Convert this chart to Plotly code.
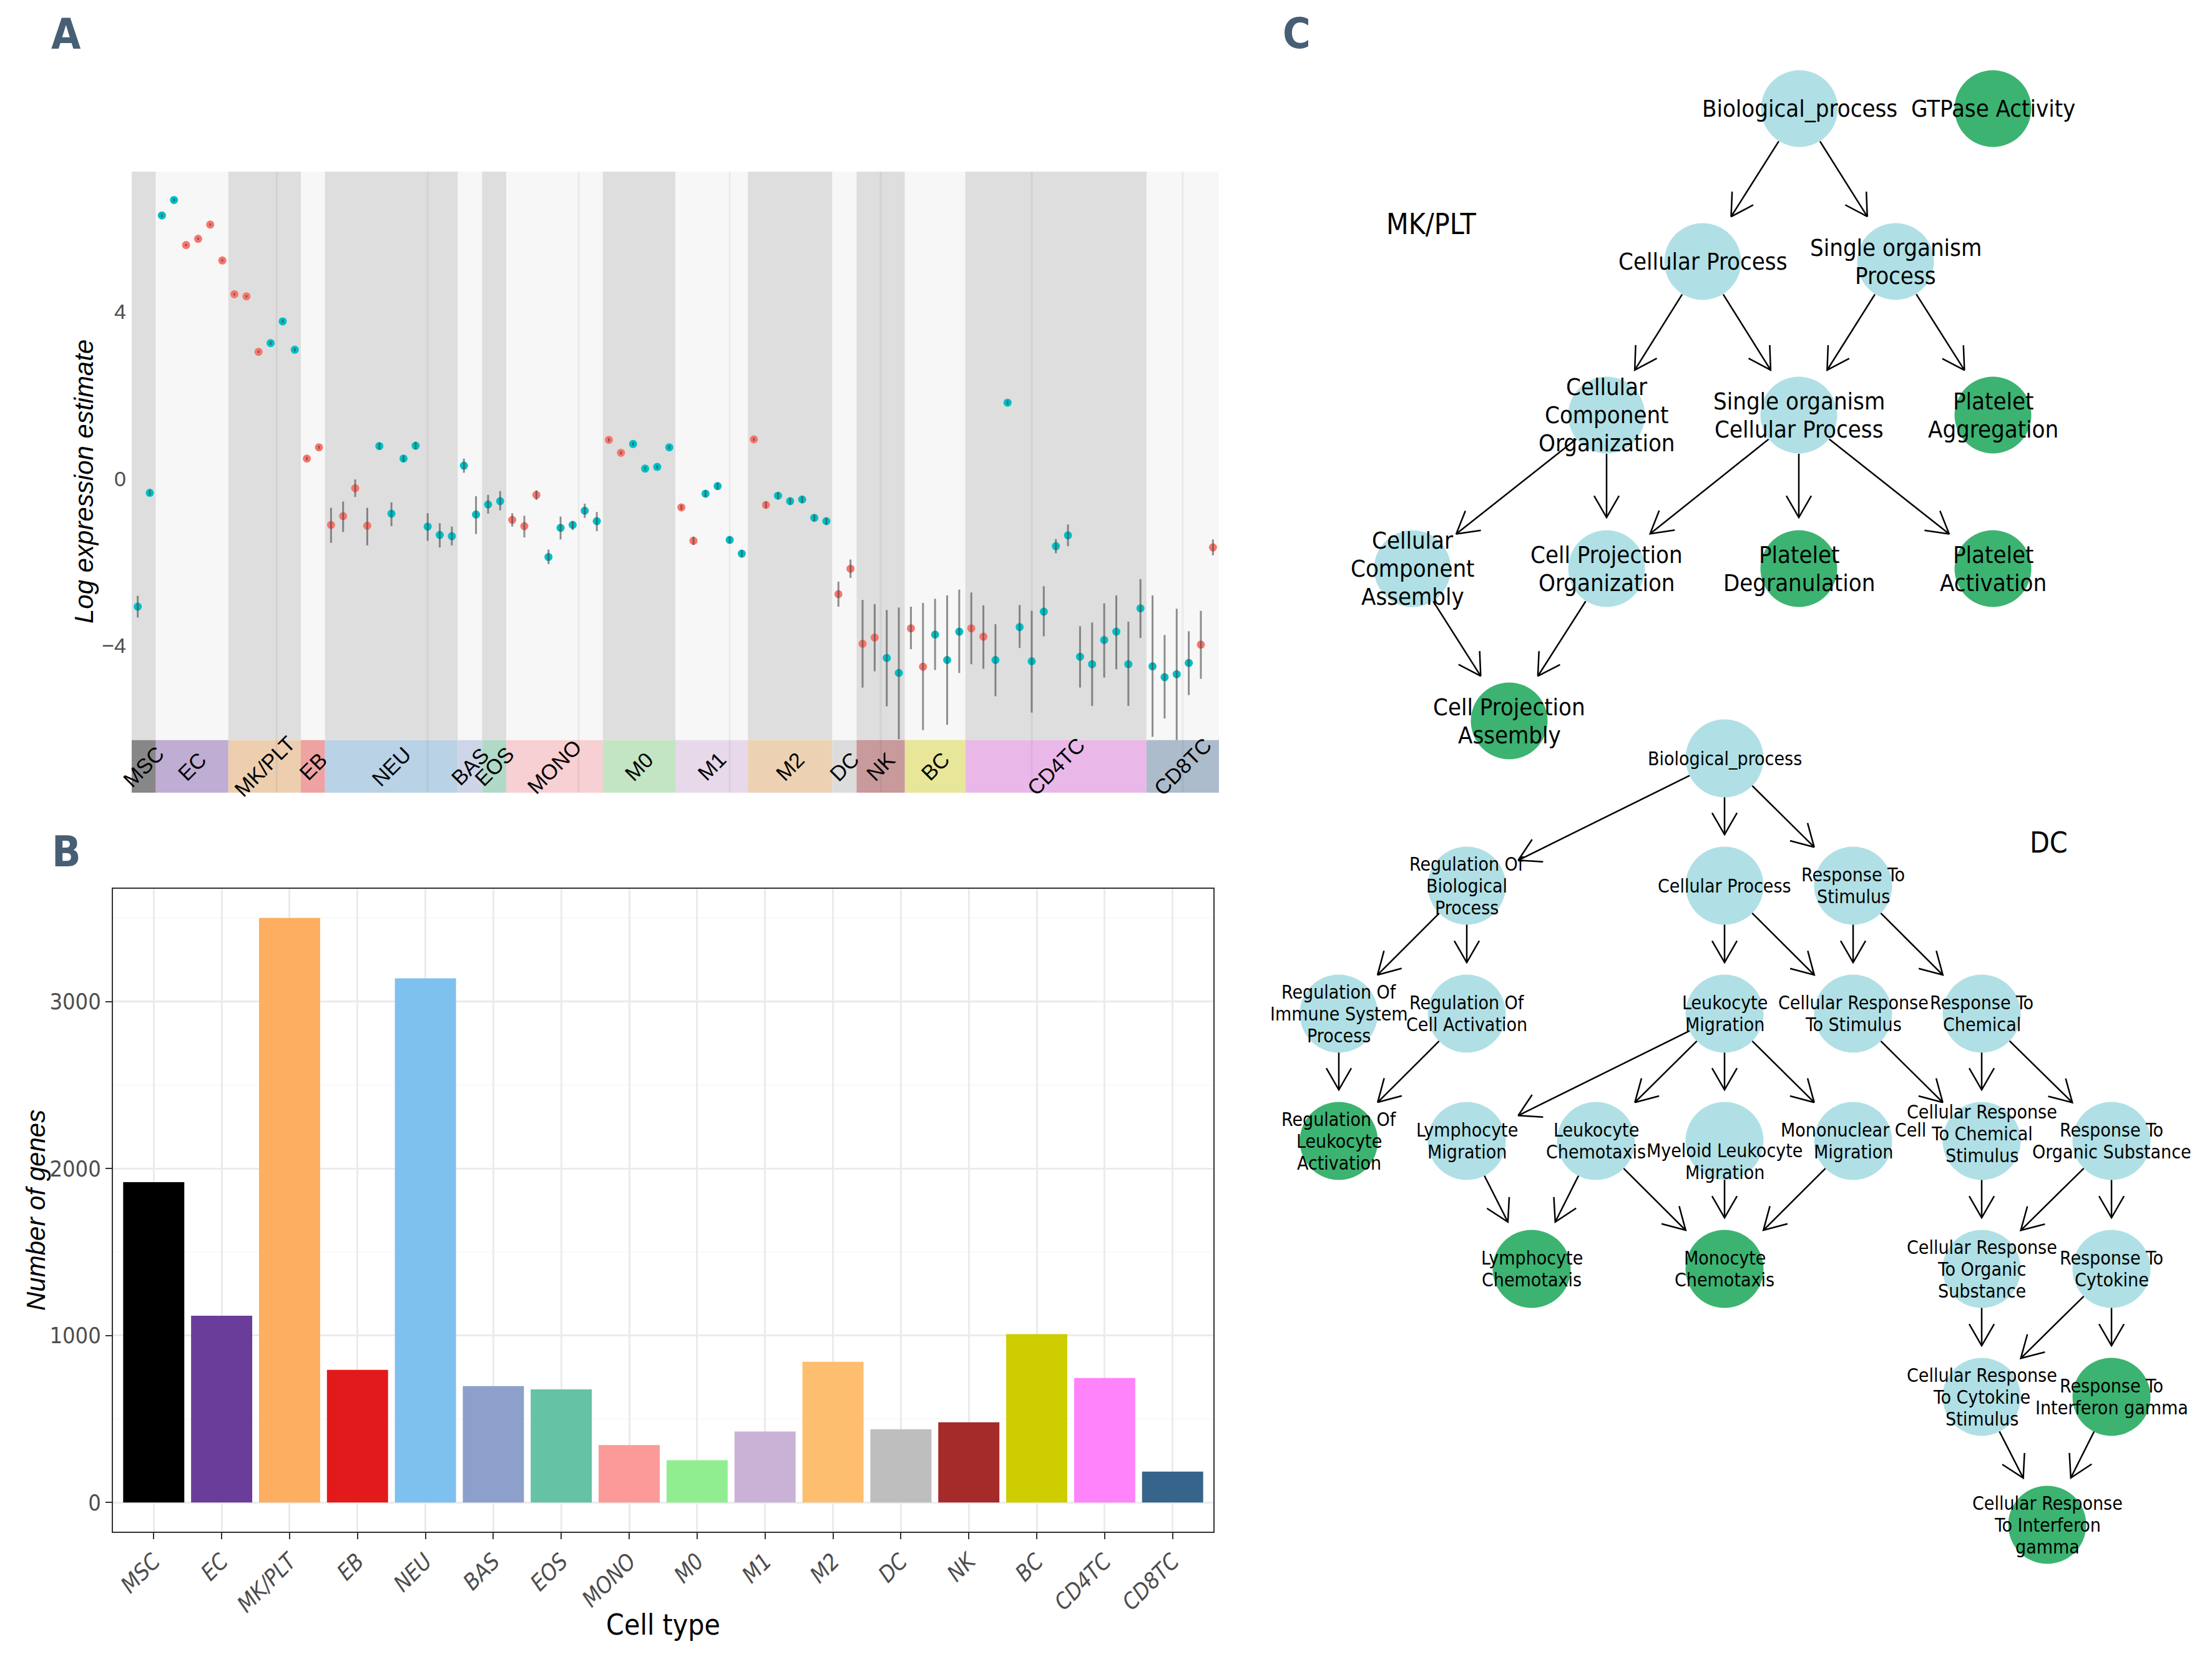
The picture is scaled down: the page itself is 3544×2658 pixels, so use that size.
import numpy as np
import plotly.graph_objects as go

W, H = 3544, 2658
NARROW = "Liberation Sans Narrow, Arial Narrow, DejaVu Sans Condensed, sans-serif"
SANS = "Liberation Sans, Arial, Helvetica, sans-serif"

# ---------------- Panel A data ----------------
groups = ["MSC", "EC", "MK/PLT", "EB", "NEU", "BAS", "EOS", "MONO", "M0", "M1",
          "M2", "DC", "NK", "BC", "CD4TC", "CD8TC"]
group_sizes = [2, 6, 6, 2, 11, 2, 2, 8, 6, 6, 7, 2, 4, 5, 15, 6]
strip_colors = ["#878787", "#bfadd4", "#edcfb0", "#eea2a2", "#b9d2e5", "#cfd5e8",
                "#b1d9c8", "#f7d0d3", "#c3e5c3", "#e7d9ea", "#ecd2b3", "#dcdcdc",
                "#c89a9b", "#e8e698", "#eab8e8", "#adbccc"]
subcluster_breaks = [12.5, 25, 37.5, 50, 62.5, 75, 87.5]

expr_est = [
    -3.07, -0.34,
    6.31, 6.68, 5.60, 5.75, 6.09, 5.23,
    4.42, 4.37, 3.04, 3.25, 3.77, 3.09,
    0.48, 0.75,
    -1.11, -0.90, -0.23, -1.13, 0.78, -0.84, 0.48, 0.79, -1.15, -1.35, -1.38,
    0.31, -0.86,
    -0.62, -0.54,
    -0.99, -1.14, -0.39, -1.88, -1.18, -1.11, -0.77, -1.02,
    0.93, 0.62, 0.83, 0.24, 0.28, 0.75,
    -0.69, -1.49, -0.36, -0.18, -1.47, -1.80,
    0.94, -0.63, -0.41, -0.54, -0.50, -0.94, -1.02,
    -2.77, -2.16,
    -3.96, -3.81, -4.30, -4.66,
    -3.59, -4.51, -3.74, -4.35, -3.67,
    -3.59, -3.79, -4.35, 1.82, -3.56, -4.38, -3.19, -1.62, -1.36, -4.27, -4.45,
    -3.87, -3.67, -4.45, -3.11,
    -4.50, -4.76, -4.69, -4.42, -3.98, -1.65,
]
expr_lo = [
    -3.33, -0.40,
    6.27, 6.64, 5.57, 5.72, 6.06, 5.20,
    4.39, 4.34, 3.01, 3.21, 3.73, 3.05,
    0.44, 0.71,
    -1.54, -1.28, -0.44, -1.60, 0.70, -1.14, 0.40, 0.70, -1.49, -1.65, -1.60,
    0.14, -1.33,
    -0.84, -0.76,
    -1.15, -1.41, -0.51, -2.05, -1.46, -1.23, -0.94, -1.26,
    0.89, 0.58, 0.79, 0.20, 0.24, 0.71,
    -0.75, -1.59, -0.44, -0.26, -1.55, -1.88,
    0.90, -0.71, -0.49, -0.62, -0.58, -1.02, -1.10,
    -3.07, -2.38,
    -5.01, -4.62, -5.46, -6.25,
    -4.09, -6.03, -4.59, -5.90, -4.66,
    -4.45, -4.56, -5.22, 1.77, -4.06, -5.61, -3.78, -1.79, -1.62, -5.01, -5.45,
    -4.77, -4.57, -5.45, -3.82,
    -6.19, -5.75, -6.27, -5.19, -4.80, -1.84,
]
expr_hi = [
    -2.81, -0.28,
    6.35, 6.72, 5.63, 5.78, 6.12, 5.26,
    4.45, 4.40, 3.07, 3.29, 3.81, 3.13,
    0.52, 0.79,
    -0.70, -0.55, -0.02, -0.70, 0.86, -0.57, 0.56, 0.88, -0.83, -1.07, -1.15,
    0.48, -0.42,
    -0.39, -0.30,
    -0.83, -0.89, -0.28, -1.70, -0.91, -1.02, -0.60, -0.80,
    0.97, 0.66, 0.87, 0.28, 0.32, 0.79,
    -0.63, -1.39, -0.28, -0.10, -1.39, -1.72,
    0.98, -0.55, -0.33, -0.46, -0.42, -0.86, -0.94,
    -2.47, -1.94,
    -2.91, -3.01, -3.15, -3.09,
    -3.07, -2.98, -2.88, -2.80, -2.66,
    -2.73, -3.04, -3.49, 1.87, -3.03, -3.17, -2.58, -1.45, -1.10, -3.54, -3.45,
    -2.99, -2.80, -3.43, -2.41,
    -2.80, -3.75, -3.12, -3.66, -3.17, -1.46,
]
expr_dir = ("tt" + "ttrrrr" + "rrrttt" + "rr" + "rrrrttttttt" + "tt" + "tt" +
            "rrrttttt" + "rrtttt" + "rrtttt" + "rrttttt" + "rr" + "rrtt" +
            "rrttt" + "rrttttttttttttt" + "ttttrr")

# ---------------- Panel B data ----------------
cell_types = groups
gene_counts = [1918, 1118, 3500, 794, 3139, 697, 677, 344, 253, 425, 843, 438,
               480, 1008, 745, 185]
bar_colors = ["#000000", "#6a3d9a", "#fdae61", "#e31a1c", "#7ec0ee", "#8da0cb",
              "#66c2a5", "#fb9a99", "#90ee90", "#cab2d6", "#fdbf6f", "#bebebe",
              "#a52a2a", "#cdcd00", "#ff83fa", "#36648b"]

# ---------------- Panel C data ----------------
mk_labels = ["Biological_process", "GTPase Activity", "Cellular Process",
             "Single organism<br>Process", "Cellular<br>Component<br>Organization",
             "Single organism<br>Cellular Process", "Platelet<br>Aggregation",
             "Cellular<br>Component<br>Assembly", "Cell Projection<br>Organization",
             "Platelet<br>Degranulation", "Platelet<br>Activation",
             "Cell Projection<br>Assembly"]
mk_x = [2883, 3193, 2728, 3037, 2574, 2882, 3193, 2263, 2574, 2882, 3193, 2418]
mk_y = [174, 174, 419, 419, 665, 665, 665, 911, 911, 911, 911, 1155]
mk_sig = [0, 1, 0, 0, 0, 0, 1, 0, 0, 1, 1, 1]
mk_edges = [(0, 2), (0, 3), (2, 4), (2, 5), (3, 5), (3, 6), (4, 7), (4, 8),
            (5, 8), (5, 9), (5, 10), (7, 11), (8, 11)]
mk_shift = [0] * 12

dc_labels = ["Biological_process", "Regulation Of<br>Biological<br>Process",
             "Cellular Process", "Response To<br>Stimulus",
             "Regulation Of<br>Immune System<br>Process",
             "Regulation Of<br>Cell Activation", "Leukocyte<br>Migration",
             "Cellular Response<br>To Stimulus", "Response To<br>Chemical",
             "Regulation Of<br>Leukocyte<br>Activation", "Lymphocyte<br>Migration",
             "Leukocyte<br>Chemotaxis", "Myeloid Leukocyte<br>Migration",
             "Mononuclear Cell<br>Migration",
             "Cellular Response<br>To Chemical<br>Stimulus",
             "Response To<br>Organic Substance", "Lymphocyte<br>Chemotaxis",
             "Monocyte<br>Chemotaxis", "Cellular Response<br>To Organic<br>Substance",
             "Response To<br>Cytokine", "Cellular Response<br>To Cytokine<br>Stimulus",
             "Response To<br>Interferon gamma",
             "Cellular Response<br>To Interferon<br>gamma"]
dc_x = [2763, 2350, 2763, 2969, 2145, 2350, 2763, 2969, 3175, 2145, 2350, 2557,
        2763, 2969, 3175, 3383, 2454, 2763, 3175, 3383, 3175, 3383, 3280]
dc_y = [1215, 1419, 1419, 1419, 1624, 1624, 1624, 1624, 1624, 1828, 1828, 1828,
        1828, 1828, 1828, 1828, 2033, 2033, 2033, 2033, 2238, 2238, 2443]
dc_sig = [0, 0, 0, 0, 0, 0, 0, 0, 0, 1, 0, 0, 0, 0, 0, 0, 1, 1, 0, 0, 0, 1, 1]
dc_edges = [(0, 1), (0, 2), (0, 3), (1, 4), (1, 5), (2, 6), (2, 7), (3, 7), (3, 8),
            (4, 9), (5, 9), (6, 10), (6, 11), (6, 12), (6, 13), (7, 14), (8, 14),
            (8, 15), (10, 16), (11, 16), (11, 17), (12, 17), (13, 17), (14, 18),
            (15, 18), (15, 19), (18, 20), (19, 20), (19, 21), (20, 22), (21, 22)]
dc_shift = [0] * 23
dc_shift[12] = 33
dc_shift[14] = -12

# ---------------- styles ----------------
COL_UP = "#F8766D"
COL_DN = "#00BFC4"
NODE_BLUE = "#b0e0e6"
NODE_GREEN = "#3cb371"
R_START, TIP_A, TIP_B = 62, 95, 82
HEAD_LEN, HEAD_ANG = 40, np.radians(30)

def px(x):
    return x / W

def py(y):
    return 1 - y / H

fig = go.Figure()

# ---------------- Panel A ----------------
n_pts = len(expr_est)
xs = np.arange(1, n_pts + 1)
starts = np.concatenate([[0], np.cumsum(group_sizes)[:-1]]) + 1
ends = np.cumsum(group_sizes)
Y_TOP, Y_STRIP, Y_BOT = 7.36, -6.27, -7.53

shapes = []
for i, (s, e) in enumerate(zip(starts, ends)):
    shapes.append(dict(type="rect", xref="x", yref="y", x0=s - 0.5, x1=e + 0.5,
                       y0=Y_STRIP, y1=Y_TOP, fillcolor="#dedede" if i % 2 == 0 else "#f7f7f7",
                       line=dict(width=0), layer="below"))
    shapes.append(dict(type="rect", xref="x", yref="y", x0=s - 0.5, x1=e + 0.5,
                       y0=Y_BOT, y1=Y_STRIP, fillcolor=strip_colors[i],
                       line=dict(width=0), layer="below"))
for b in subcluster_breaks:
    shapes.append(dict(type="line", xref="x", yref="y", x0=b, x1=b, y0=Y_BOT, y1=Y_TOP,
                       line=dict(color="rgba(0,0,0,0.05)", width=3), layer="below"))

fig.add_trace(go.Scatter(
    x=xs, y=expr_est, mode="markers", xaxis="x", yaxis="y",
    marker=dict(size=13, color=[COL_UP if d == "r" else COL_DN for d in expr_dir],
                line=dict(width=0)),
    hoverinfo="skip"))

ex, ey = [], []
for x, lo, hi in zip(xs, expr_lo, expr_hi):
    ex += [x, x, None]
    ey += [lo, hi, None]
fig.add_trace(go.Scatter(x=ex, y=ey, mode="lines", xaxis="x", yaxis="y",
                         line=dict(color="rgba(70,70,70,0.6)", width=3),
                         hoverinfo="skip"))

annotations = []
for i, g in enumerate(groups):
    c = (starts[i] + ends[i]) / 2
    annotations.append(dict(x=c, y=(Y_STRIP + Y_BOT) / 2, xref="x", yref="y", text=g,
                            showarrow=False, textangle=-45,
                            xanchor="center", yanchor="middle",
                            font=dict(family=SANS, size=34, color="black")))

# ---------------- Panel B ----------------
fig.add_trace(go.Bar(x=cell_types, y=gene_counts, xaxis="x2", yaxis="y2",
                     marker=dict(color=bar_colors, line=dict(width=0)),
                     hoverinfo="skip"))

# ---------------- Panel C ----------------
def arrow_paths(nx, ny, edges):
    X, Y = [], []
    for s, t in edges:
        x0, y0, x1, y1 = nx[s], ny[s], nx[t], ny[t]
        dx, dy = x1 - x0, y1 - y0
        L = np.hypot(dx, dy)
        ux, uy = dx / L, dy / L
        sx, sy = x0 + R_START * ux, y0 + R_START * uy
        d = 1 / np.sqrt((ux / TIP_A) ** 2 + (uy / TIP_B) ** 2)
        tx, ty = x1 - d * ux, y1 - d * uy
        X += [sx, tx, None]
        Y += [sy, ty, None]
        bars = []
        for ang in (HEAD_ANG, -HEAD_ANG):
            c, sn = np.cos(ang), np.sin(ang)
            bx = -ux * c + uy * sn
            by = -ux * sn - uy * c
            bars.append((tx + HEAD_LEN * bx, ty + HEAD_LEN * by))
        X += [bars[0][0], tx, bars[1][0], None]
        Y += [bars[0][1], ty, bars[1][1], None]
    return X, Y

for nx, ny, edges, sig, labels, shift, fsize, gap, msize in [
        (mk_x, mk_y, mk_edges, mk_sig, mk_labels, mk_shift, 38, 45, 123),
        (dc_x, dc_y, dc_edges, dc_sig, dc_labels, dc_shift, 30, 35, 125)]:
    X, Y = arrow_paths(nx, ny, edges)
    fig.add_trace(go.Scatter(x=X, y=Y, mode="lines", xaxis="x3", yaxis="y3",
                             line=dict(color="black", width=2.5), hoverinfo="skip"))
    fig.add_trace(go.Scatter(x=nx, y=ny, mode="markers", xaxis="x3", yaxis="y3",
                             marker=dict(size=msize,
                                         color=[NODE_GREEN if s else NODE_BLUE for s in sig],
                                         line=dict(width=0)),
                             hoverinfo="skip"))
    for x, y, lab, sh in zip(nx, ny, labels, shift):
        lines = lab.split("<br>")
        n = len(lines)
        for k, ln in enumerate(lines):
            annotations.append(dict(x=x, y=y + sh + (k - (n - 1) / 2) * gap,
                                    xref="x3", yref="y3", text=ln, showarrow=False,
                                    xanchor="center", yanchor="middle",
                                    font=dict(family=NARROW, size=fsize, color="black")))

annotations.append(dict(x=2293, y=359, xref="x3", yref="y3", text="MK/PLT", showarrow=False,
                        xanchor="center", yanchor="middle",
                        font=dict(family=NARROW, size=46, color="black")))
annotations.append(dict(x=3282, y=1350, xref="x3", yref="y3", text="DC", showarrow=False,
                        xanchor="center", yanchor="middle",
                        font=dict(family=NARROW, size=46, color="black")))

# axis titles & panel letters
annotations += [
    dict(x=px(134), y=py(772), xref="paper", yref="paper", text="Log expression estimate",
         showarrow=False, textangle=-90, xanchor="center", yanchor="middle",
         font=dict(family=SANS, size=42, color="black", style="italic")),
    dict(x=px(57), y=py(1939), xref="paper", yref="paper", text="Number of genes",
         showarrow=False, textangle=-90, xanchor="center", yanchor="middle",
         font=dict(family=SANS, size=42, color="black", style="italic")),
    dict(x=px(1062), y=py(2603), xref="paper", yref="paper", text="Cell type",
         showarrow=False, xanchor="center", yanchor="middle",
         font=dict(family=NARROW, size=46, color="black")),
]
for letter, lx, ly in [("A", 106, 54), ("B", 106, 1364), ("C", 2077, 53)]:
    annotations.append(dict(x=px(lx), y=py(ly), xref="paper", yref="paper", text=letter,
                            showarrow=False, xanchor="center", yanchor="middle",
                            font=dict(family=NARROW, size=68, color="#475f74", weight="bold")))

fig.update_layout(
    width=W, height=H, margin=dict(l=0, r=0, t=0, b=0),
    paper_bgcolor="white", plot_bgcolor="white", showlegend=False,
    bargap=0.1,
    shapes=shapes, annotations=annotations,
    xaxis=dict(domain=[px(211), px(1953)], range=[0.5, n_pts + 0.5], anchor="y",
               showgrid=False, zeroline=False, showticklabels=False, ticks=""),
    yaxis=dict(domain=[py(1270), py(275)], range=[Y_BOT, Y_TOP], anchor="x",
               tickvals=[-4, 0, 4], showgrid=False, zeroline=False, ticks="",
               ticklabelstandoff=8,
               tickfont=dict(family=SANS, size=34, color="#4d4d4d")),
    xaxis2=dict(domain=[px(181), px(1944)], anchor="y2", type="category",
                range=[-0.6, len(cell_types) - 0.4],
                showgrid=True, gridcolor="#ebebeb", gridwidth=2.5, zeroline=False,
                ticks="outside", ticklen=10, tickwidth=2, tickcolor="#333333",
                tickangle=-45,
                tickfont=dict(family=NARROW, size=36, color="#4d4d4d", style="italic"),
                showline=True, mirror=True, linecolor="#333333", linewidth=2),
    yaxis2=dict(domain=[py(2454), py(1424)], anchor="x2", range=[-175, 3675],
                tickvals=[0, 1000, 2000, 3000],
                showgrid=True, gridcolor="#ebebeb", gridwidth=2.5, zeroline=False,
                minor=dict(tickvals=[500, 1500, 2500, 3500], showgrid=True,
                           gridcolor="#f4f4f4", gridwidth=1.3, ticks=""),
                ticks="outside", ticklen=10, tickwidth=2, tickcolor="#333333",
                tickfont=dict(family=NARROW, size=36, color="#4d4d4d"),
                showline=True, mirror=True, linecolor="#333333", linewidth=2),
    xaxis3=dict(domain=[px(2000), 1], range=[2000, W], anchor="y3", visible=False),
    yaxis3=dict(domain=[0, 1], range=[H, 0], anchor="x3", visible=False),
)

fig.write_html("out.html", config={"displayModeBar": False},
               post_script="document.body.style.margin='0';")
